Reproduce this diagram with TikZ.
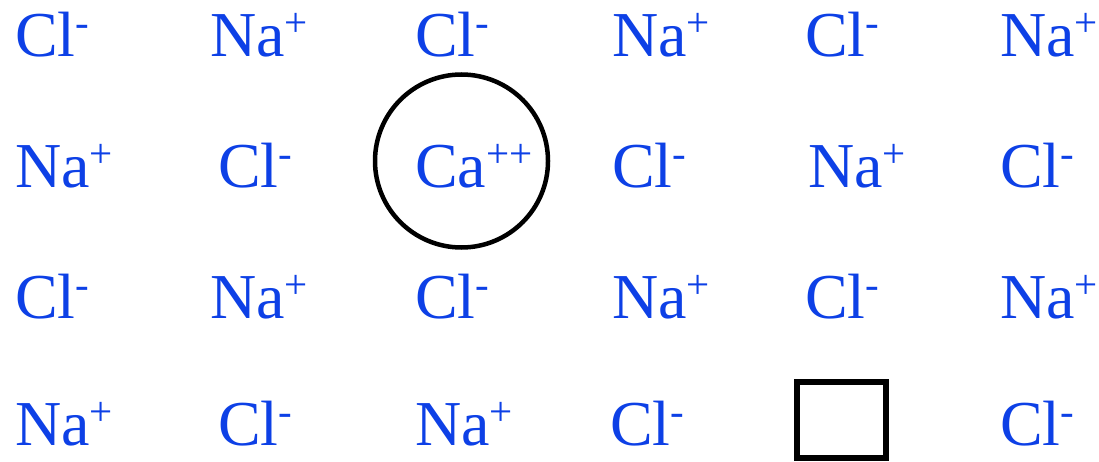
\documentclass[tikz,border=0pt]{standalone}
\usepackage{fontspec}
\setmainfont{Liberation Serif}
\definecolor{ionblue}{RGB}{13,64,230}
\newcommand\ionsup[1]{\raisebox{20pt}{\fontsize{41}{41}\selectfont #1}}
\begin{document}
\begin{tikzpicture}[x=1pt,y=-1pt,
  ion/.style={anchor=base west,inner sep=0pt,text=ionblue,font=\fontsize{64}{64}\selectfont},
  ring/.style={draw=black,circle,line width=4.5pt,minimum size=173pt,inner sep=0pt},
  hole/.style={draw=black,rectangle,line width=5.5pt,minimum width=89pt,minimum height=76pt,inner sep=0pt}]
\useasboundingbox (0,0) rectangle (1099,462);
% row 1
\node[ion] (a1) at (15,57) {Cl\ionsup{-}};
\node[ion] (a2) at (210,57) {Na\ionsup{+}};
\node[ion] (a3) at (415,57) {Cl\ionsup{-}};
\node[ion] (a4) at (612,57) {Na\ionsup{+}};
\node[ion] (a5) at (805,57) {Cl\ionsup{-}};
\node[ion] (a6) at (1000,57) {Na\ionsup{+}};
% row 2
\node[ion] (b1) at (15,188) {Na\ionsup{+}};
\node[ion] (b2) at (218,188) {Cl\ionsup{-}};
\node[ion] (b3) at (415,188) {Ca\ionsup{++}};
\node[ion] (b4) at (612,188) {Cl\ionsup{-}};
\node[ion] (b5) at (808,188) {Na\ionsup{+}};
\node[ion] (b6) at (1000,188) {Cl\ionsup{-}};
% row 3
\node[ion] (c1) at (15,318) {Cl\ionsup{-}};
\node[ion] (c2) at (210,318) {Na\ionsup{+}};
\node[ion] (c3) at (415,318) {Cl\ionsup{-}};
\node[ion] (c4) at (612,318) {Na\ionsup{+}};
\node[ion] (c5) at (805,318) {Cl\ionsup{-}};
\node[ion] (c6) at (1000,318) {Na\ionsup{+}};
% row 4
\node[ion] (d1) at (15,445) {Na\ionsup{+}};
\node[ion] (d2) at (218,445) {Cl\ionsup{-}};
\node[ion] (d3) at (415,445) {Na\ionsup{+}};
\node[ion] (d4) at (610,445) {Cl\ionsup{-}};
\node[ion] (d6) at (1000,445) {Cl\ionsup{-}};
% circle and vacancy
\node[ring] (ring) at (461.5,161) {};
\node[hole] (vac) at (841.5,420) {};
\end{tikzpicture}
\end{document}
